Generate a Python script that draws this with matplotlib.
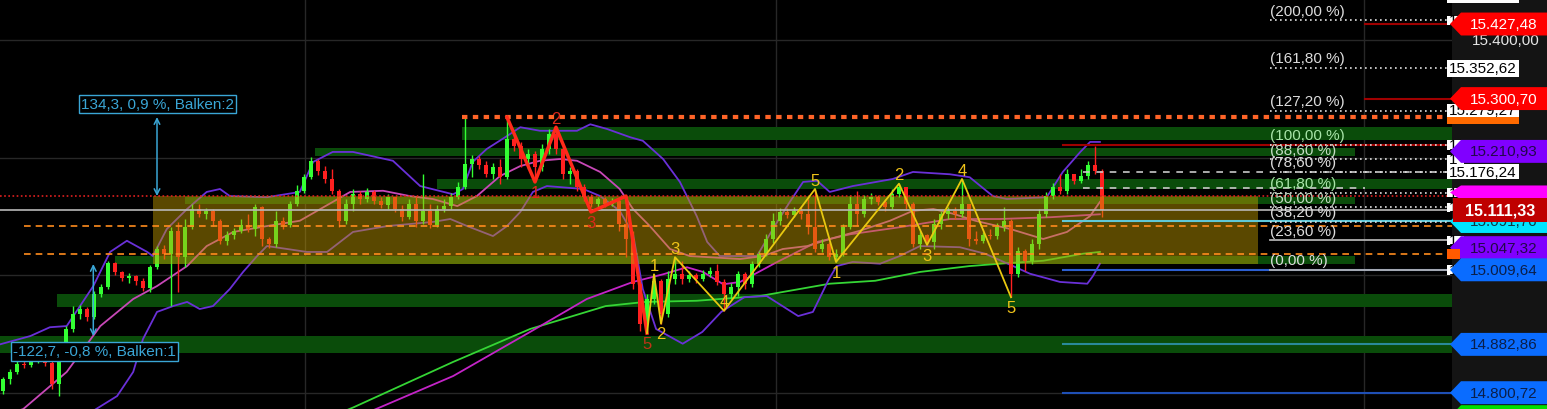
import numpy as np
import matplotlib
matplotlib.use('Agg')
import matplotlib.pyplot as plt
from matplotlib.patches import Polygon, Rectangle

plt.rcParams['font.family'] = ['Liberation Sans', 'DejaVu Sans']

# candles: open of each bar = close of the bar before
first_open = 14804
closes = [14824, 14836, 14850, 14848, 14858, 14863, 14851, 14816, 14858, 14909,
          14935, 14943, 14929, 14969, 14980, 15021, 15006, 14996, 14999, 14991,
          14979, 15014, 15045, 15037, 15076, 15031, 15082, 15113, 15105, 15110,
          15093, 15059, 15069, 15076, 15086, 15079, 15116, 15062, 15054, 15093,
          15086, 15122, 15144, 15167, 15195, 15178, 15164, 15144, 15093, 15122,
          15139, 15130, 15142, 15127, 15120, 15133, 15113, 15099, 15122, 15093,
          15110, 15086, 15113, 15118, 15133, 15150, 15190, 15198, 15188, 15173,
          15184, 15167, 15232, 15220, 15198, 15207, 15184, 15215, 15241, 15215,
          15173, 15178, 15150, 15133, 15122, 15130, 15122, 15127, 15088, 15062,
          14986, 14918, 14960, 14991, 14935, 14994, 15002, 14994, 15001, 14994,
          15002, 15008, 14989, 14969, 14980, 15002, 14985, 15019, 15036, 15062,
          15093, 15108, 15103, 15110, 15105, 15082, 15045, 15054, 15031, 15036,
          15082, 15122, 15105, 15130, 15133, 15125, 15116, 15139, 15150, 15122,
          15054, 15069, 15057, 15088, 15105, 15110, 15105, 15122, 15062, 15059,
          15069, 15067, 15082, 15093, 15002, 15042, 15025, 15054, 15105, 15135,
          15150, 15144, 15173, 15161, 15169, 15188, 15178, 15111.33]
highs = [14827, 14841, 14855, 14856, 14863, 14868, 14867, 14855, 14863, 14914,
         14948, 14950, 14946, 14974, 14986, 15025, 15023, 15008, 15004, 15001,
         14996, 15018, 15050, 15052, 15082, 15091, 15096, 15122, 15122, 15115,
         15113, 15096, 15076, 15081, 15096, 15105, 15122, 15118, 15065, 15110,
         15099, 15127, 15154, 15173, 15201, 15198, 15186, 15181, 15147, 15130,
         15147, 15144, 15149, 15145, 15133, 15139, 15133, 15120, 15130, 15135,
         15173, 15122, 15120, 15130, 15140, 15159, 15269, 15205, 15203, 15195,
         15191, 15198, 15269, 15235, 15227, 15215, 15212, 15224, 15249, 15252,
         15218, 15184, 15181, 15156, 15139, 15133, 15133, 15132, 15130, 15135,
         15076, 14989, 14969, 15002, 14994, 15008, 15031, 15025, 15008, 15004,
         15009, 15014, 15019, 14994, 14987, 15008, 15006, 15025, 15042, 15070,
         15106, 15115, 15115, 15116, 15116, 15130, 15147, 15062, 15057, 15045,
         15088, 15137, 15144, 15137, 15140, 15137, 15130, 15147, 15156, 15150,
         15125, 15076, 15071, 15096, 15110, 15116, 15116, 15164, 15122, 15076,
         15074, 15079, 15089, 15116, 15096, 15048, 15045, 15062, 15113, 15142,
         15157, 15173, 15181, 15173, 15181, 15195, 15220, 15181]
lows = [14799, 14816, 14833, 14843, 14844, 14851, 14846, 14807, 14795, 14855,
        14904, 14926, 14923, 14926, 14963, 14977, 15001, 14991, 14987, 14984,
        14974, 14972, 15011, 15028, 14948, 14972, 15014, 15079, 15099, 15096,
        15084, 15054, 15052, 15062, 15072, 15074, 15067, 15050, 15047, 15048,
        15079, 15082, 15118, 15140, 15164, 15171, 15157, 15139, 15082, 15088,
        15110, 15122, 15125, 15122, 15115, 15113, 15108, 15093, 15096, 15082,
        15088, 15081, 15082, 15108, 15113, 15130, 15147, 15167, 15181, 15167,
        15164, 15156, 15164, 15212, 15184, 15181, 15164, 15178, 15207, 15207,
        15164, 15156, 15144, 15127, 15116, 15116, 15116, 15118, 15076, 15031,
        14977, 14906, 14902, 14952, 14918, 14929, 14986, 14986, 14989, 14987,
        14991, 14997, 14984, 14940, 14960, 14965, 14977, 14980, 15014, 15033,
        15055, 15086, 15098, 15099, 15096, 15070, 15040, 15040, 15026, 15023,
        15033, 15079, 15084, 15099, 15122, 15120, 15110, 15113, 15133, 15113,
        15048, 15045, 15052, 15045, 15079, 15096, 15096, 15099, 15050, 15054,
        15055, 15062, 15062, 15076, 14963, 14997, 15008, 15020, 15045, 15099,
        15130, 15139, 15139, 15156, 15157, 15164, 15173, 15099]
opens = [first_open] + closes[:-1]

# indicator lines (bar index, price)
bb_up_x = [-0.4, 3.9, 6.7, 9.1, 12.9, 15.3, 17.7, 20.6, 21.4, 23.4, 26.3, 29.1, 31, 32.4, 37.7, 42.4,
           44.3, 47.1, 50, 55.7, 59.6, 64.3, 65.7, 67.1, 69.1, 72, 73.9, 76.7, 82, 83.9, 86.3, 89.6,
           91.4, 94.3, 96.7, 99.1, 100.6, 102.4, 107.7, 110.6, 112.4, 114.3, 116.3, 118.1, 121.4,
           127.1, 130, 135.3, 138.1, 141.4, 143.4, 149.1, 151.4, 153.9, 155.3, 156.7]
bb_up = [14883, 14897, 14912, 14914, 14982, 15040, 15059, 15040, 15033, 15079, 15113, 15142, 15147,
         15135, 15133, 15142, 15193, 15210, 15210, 15195, 15152, 15138, 15147, 15193, 15215, 15237,
         15252, 15246, 15246, 15257, 15249, 15235, 15229, 15198, 15159, 15101, 15057, 15033, 15033,
         15091, 15125, 15159, 15161, 15142, 15152, 15164, 15176, 15172, 15167, 15135, 15130, 15133,
         15176, 15210, 15227, 15227]
bb_lo_x = [11, 16.3, 18.6, 20, 22, 24.3, 26.3, 28.1, 30, 32.4, 34.3, 36.3, 37.7, 40.6, 43.4, 46.3, 50,
           54.9, 61.4, 63.9, 66.3, 70, 72, 73.9, 75.7, 77.7, 82.9, 85.3, 88.1, 90, 91.4, 93.3, 97.1,
           99.9, 102.6, 105.9, 109.1, 113.6, 115.7, 118, 119.1, 121.4, 125.3, 128.1, 131, 136.7,
           140.3, 144.3, 146.7, 151, 154.9, 155.7, 156.7]
bb_lo = [14756, 14795, 14836, 14892, 14938, 14948, 14955, 14943, 14948, 14977, 15006, 15033, 15050,
         15045, 15040, 15040, 15074, 15084, 15091, 15096, 15084, 15067, 15084, 15108, 15142, 15152,
         15147, 15135, 15110, 15071, 14977, 14909, 14884, 14904, 14938, 14963, 14965, 14931, 14938,
         14994, 15016, 15023, 15020, 15033, 15050, 15048, 15037, 15016, 15003, 14989, 14986, 14999,
         15020]
bb_mid_x = [-0.4, 2.9, 9.1, 13.9, 18.6, 22, 26.3, 29.1, 32.9, 37.7, 42.4, 47.1, 49.6, 54.3, 58.1,
            61.4, 64.9, 67.7, 71, 73.9, 76.7, 79.6, 82, 85.3, 88.1, 90, 92.4, 95.3, 98.1, 105.3,
            108.6, 111.4, 114.9, 118.1, 122.4, 126.7, 130, 132.9, 135.7, 138.9, 143.9, 148.6, 152,
            155.3, 156.7]
bb_mid = [14759, 14773, 14836, 14914, 14960, 14982, 15016, 15050, 15074, 15084, 15093, 15125, 15142,
          15144, 15135, 15130, 15118, 15135, 15169, 15186, 15195, 15198, 15195, 15176, 15147, 15113,
          15084, 15045, 15033, 15028, 15033, 15045, 15050, 15062, 15076, 15093, 15110, 15113, 15105,
          15093, 15079, 15062, 15074, 15101, 15125]
ma_mag_x = [52.7, 53.9, 64.3, 75.3, 83.4, 90, 94.3, 97.7, 100, 102.9, 105.3, 110.6, 116.3, 121,
            128.1, 135.3, 142.4, 149.6, 156.7]
ma_mag = [14770, 14776, 14829, 14904, 14960, 14989, 15002, 15014, 15006, 14985, 14989, 15023, 15057,
          15070, 15082, 15096, 15096, 15099, 15104]
ma_grn_x = [48.9, 50.1, 64.3, 75.3, 86.1, 91.7, 99.1, 108.1, 118.1, 124.6, 131, 138.1, 142.4,
            148.6, 154.3, 156.7]
ma_grn = [14770, 14776, 14853, 14909, 14948, 14955, 14957, 14965, 14986, 14991, 15006, 15016,
          15020, 15025, 15037, 15040]

# elliott counts
red_x = [72, 76, 79, 84, 89, 92]
red_y = [15269, 15159, 15252, 15108, 15135, 14902]
red_lbl = ['', '1', '2', '3', '', '5']
red_pos = ['', 'dn', 'up', 'dn', '', 'dn']
yel_x = [92, 93, 94, 96, 103, 116, 119, 128, 132, 137, 144]
yel_y = [14902, 15002, 14918, 15031, 14940, 15147, 15023, 15156, 15052, 15164, 14963]
yel_lbl = ['', '1', '2', '3', '4', '5', '1', '2', '3', '4', '5']
yel_pos = ['', 'up', 'dn', 'up', 'up', 'up', 'dn', 'up', 'dn', 'up', 'dn']

# support / resistance zones
band_lo = [15230.3, 15203.1, 15147, 15121.5, 15019.5, 14946.4, 14868.2]
band_hi = [15252.4, 15216.7, 15164, 15133.4, 15033.1, 14968.5, 14897.1]
band_x0 = [65.6, 44.6, 62, 26, 16, 7.7, -0.5]
band_x1 = [207, 193.1, 207, 193.1, 193.1, 207, 207]

# fibonacci
fib_base = 15009.64
fib_range = 211.97
fib_levels = [200, 161.8, 127.2, 100, 88.6, 78.6, 61.8, 50, 38.2, 23.6, 0]

grid_prices = [14800, 15000, 15200, 15400]
grid_x = [43.1, 110.4, 194.4]

fig = plt.figure(figsize=(15.47, 4.10), dpi=100)
fig.patch.set_facecolor('#141414')
ax = fig.add_axes([0, 0, 1452 / 1547, 1])
ax.set_facecolor('black')
ax.set_xlim(-3 / 7, 1449 / 7)
ax.set_ylim(14773, 15470)
for s in ax.spines.values():
    s.set_visible(False)
ax.set_xticks([])
ax.set_yticks([])

for g in grid_prices:
    ax.axhline(g, color='#272727', lw=1, zorder=0)
for g in grid_x:
    ax.axvline(g, color='#272727', lw=1, zorder=0)

for i in range(len(band_lo)):
    ax.fill_between([band_x0[i], band_x1[i]], band_lo[i], band_hi[i], color='#0a4c0a', lw=0, zorder=1)

# indicators
ax.plot(ma_grn_x, ma_grn, color='#35d535', lw=1.3, zorder=2)
ax.plot(ma_mag_x, ma_mag, color='#c424c8', lw=1.3, zorder=2)
ax.plot(bb_up_x, bb_up, color='#6a30d8', lw=1.3, zorder=2)
ax.plot(bb_lo_x, bb_lo, color='#6a30d8', lw=1.3, zorder=2)
ax.plot(bb_mid_x, bb_mid, color='#c848b8', lw=1.3, zorder=2)

# candles
idx = np.arange(len(closes))
o = np.array(opens, dtype=float)
c = np.array(closes, dtype=float)
h = np.array(highs, dtype=float)
l = np.array(lows, dtype=float)
cols = np.where(c >= o, '#33ff33', '#ff2020')
ax.vlines(idx, l, h, colors=cols, lw=1, zorder=3)
ax.bar(idx, np.maximum(np.abs(c - o), 1.5), bottom=np.minimum(o, c), width=0.6, color=cols, lw=0, zorder=3)

# the yellow range box
ax.add_patch(Rectangle((21.4, 15019.5), 179.3 - 21.4, 15135.1 - 15019.5, fc='#c8a000', alpha=0.45, lw=0, zorder=4))

# level lines
ax.plot([-0.5, 207], [15135.1, 15135.1], color='#e02020', lw=1.2, ls=(0, (1, 1.5)), zorder=5)
ax.plot([-0.5, 207], [15111.33, 15111.33], color='#b8b8b8', lw=1.2, zorder=5)
for lv in [15084.1, 15036.5]:
    ax.plot([3, 207], [lv, lv], color='#ff8c1e', lw=1.2, ls=(0, (4, 3)), zorder=5)
ax.plot([65.6, 207], [15269.4, 15269.4], color='#ff6428', lw=3, ls=(0, (1.3, 1.3)), zorder=5)
ax.plot([151.4, 207], [15221.6, 15221.6], color='#a00000', lw=1.5, zorder=5)
for lv in [15427.48, 15300.70]:
    ax.plot([194.6, 207], [lv, lv], color='#a00000', lw=1.5, zorder=5)
ax.plot([151.4, 207], [15091.76, 15091.76], color='#5fc8d8', lw=1.5, zorder=5)
ax.plot([151.4, 207], [15009.64, 15009.64], color='#2d5fd0', lw=1.5, zorder=5)
ax.plot([151.4, 207], [14882.86, 14882.86], color='#2a8a9a', lw=1.5, zorder=5)
ax.plot([151.4, 207], [14800.72, 14800.72], color='#1f4fb5', lw=1.5, zorder=5)
ax.plot([154.3, 206.3], [15176.24, 15176.24], color='#c8c8c8', lw=1.2, ls=(0, (4, 4)), zorder=5)
ax.plot([154.3, 194.6], [15148, 15148], color='#c8c8c8', lw=1.2, ls=(0, (4, 4)), zorder=5)

# fibonacci lines and labels
fib_col = {100: '#a8e4a8', 61.8: '#a8e4a8', 88.6: '#c4dcc4', 50: '#c4dcc4'}
for lvl in fib_levels:
    p = fib_base + fib_range * lvl / 100
    if lvl in (23.6, 0):
        ax.plot([181, 206.3], [p, p], color='#b0b0b0', lw=1.3, zorder=5)
    else:
        ax.plot([181, 206.3], [p, p], color='#e0e0e0', lw=1.2, ls=(0, (1, 2)), zorder=5)
    txt = ('(%.2f %%)' % lvl).replace('.', ',')
    ax.annotate(txt, (181, p), xytext=(0, 2), textcoords='offset points', ha='left', va='bottom',
                color=fib_col.get(lvl, '#dcdcdc'), fontsize=11, zorder=5)

# elliott waves
ax.plot(red_x, red_y, color='#ff2a1a', lw=2.5, zorder=6)
ax.plot(yel_x, yel_y, color='#e8c810', lw=1.3, zorder=6)
for x, y, t, pos in zip(red_x, red_y, red_lbl, red_pos):
    if t:
        col = '#c03418' if t == '5' else '#e0281a'
        ax.annotate(t, (x, y), xytext=(0, 1 if pos == 'up' else -2), textcoords='offset points',
                    ha='center', va='bottom' if pos == 'up' else 'top', color=col, fontsize=12, zorder=7)
for x, y, t, pos in zip(yel_x, yel_y, yel_lbl, yel_pos):
    if t:
        ax.annotate(t, (x, y), xytext=(0, 1 if pos == 'up' else -2), textcoords='offset points',
                    ha='center', va='bottom' if pos == 'up' else 'top', color='#f0c419', fontsize=12, zorder=7)

# measuring tool
mcol = '#3aa6d6'
ax.annotate('', xy=(22, 15269.3), xytext=(22, 15135.0),
            arrowprops=dict(arrowstyle='<->', color=mcol, lw=1.1, shrinkA=0, shrinkB=0), zorder=7)
ax.annotate('', xy=(12.9, 14896.8), xytext=(12.9, 15019.5),
            arrowprops=dict(arrowstyle='<->', color=mcol, lw=1.1, shrinkA=0, shrinkB=0), zorder=7)
ax.text(22.1, 15291.5, '134,3, 0,9 %, Balken:2', color=mcol, fontsize=11, ha='center', va='center', zorder=7,
        bbox=dict(boxstyle='square,pad=0.15', fc='black', ec=mcol, lw=1))
ax.text(13.1, 14870.8, '-122,7, -0,8 %, Balken:1', color=mcol, fontsize=11, ha='center', va='center', zorder=7,
        bbox=dict(boxstyle='square,pad=0.15', fc='black', ec=mcol, lw=1))

# price scale panel
ax2 = fig.add_axes([1452 / 1547, 0, 95 / 1547, 1])
ax2.set_facecolor('#141414')
ax2.set_xlim(0, 95)
ax2.set_ylim(14773, 15470)
for s in ax2.spines.values():
    s.set_visible(False)
ax2.set_xticks([])
ax2.set_yticks([])


def box(p, text, fc, tc, x0=-5, x1=67, hh=14.5, z=3):
    ax2.add_patch(Rectangle((x0, p - hh), x1 - x0, 2 * hh, fc=fc, ec='none', clip_on=False, zorder=z))
    if text:
        ax2.text(x0 + 2, p, text, color=tc, fontsize=11, ha='left', va='center', clip_on=False, zorder=z)


def tag(p, text, fc, tc, hh=19.5, z=4, bold=False):
    pts = [(-2, p), (9, p + hh), (95, p + hh), (95, p - hh), (9, p - hh)]
    ax2.add_patch(Polygon(pts, closed=True, fc=fc, ec='none', clip_on=False, zorder=z))
    if text:
        ax2.text(52, p, text, color=tc, fontsize=11, ha='center', va='center', clip_on=False, zorder=z,
                 fontweight='bold' if bold else 'normal')


ax2.text(88, 15400, '15.400,00', color='#e6e6e6', fontsize=11, ha='right', va='center', zorder=2)
box(15478, '', 'white', 'black')
for lvl in [200, 100, 88.6, 61.8, 50, 23.6, 0]:
    box(fib_base + fib_range * lvl / 100, '1', 'white', 'black', x1=12, hh=8)
box(15352.62, '15.352,62', 'white', 'black')
box(15266.5, '', '#ff6a00', 'black', hh=9)
box(15280.5, '15.279,27', 'white', 'black', hh=11)
box(15176.24, '15.176,24', 'white', 'black', hh=13)
tag(15427.48, '15.427,48', '#ff0000', 'white')
tag(15300.70, '15.300,70', '#ff0000', 'white')
tag(15210.93, '15.210,93', '#8000ff', '#22084a')
tag(15141, '', '#ff00ff', 'black', hh=12)
tag(15091.76, '15.091,76', '#00e5ff', '#0d3a48')
ax2.add_patch(Rectangle((1, 15090.9), 94, 41, fc='#bf0000', ec='none', clip_on=False, zorder=5))
ax2.text(48, 15111.33, '15.111,33', color='white', fontsize=11.5, fontweight='bold', ha='center',
         va='center', zorder=5)
tag(15047.32, '15.047,32', '#8000ff', '#22084a', z=6)
box(15036.5, '', '#ff5a00', 'black', x1=8, hh=8, z=6)
tag(15009.64, '15.009,64', '#0a6cff', '#0a1f4a', z=7)
tag(14882.86, '14.882,86', '#0a6cff', '#0a1f4a', z=7)
tag(14800.72, '14.800,72', '#0a6cff', '#0a1f4a', z=7)
tag(14760, '', '#00e000', 'black', z=7)

fig.savefig('out.png', dpi=100, facecolor=fig.get_facecolor())
